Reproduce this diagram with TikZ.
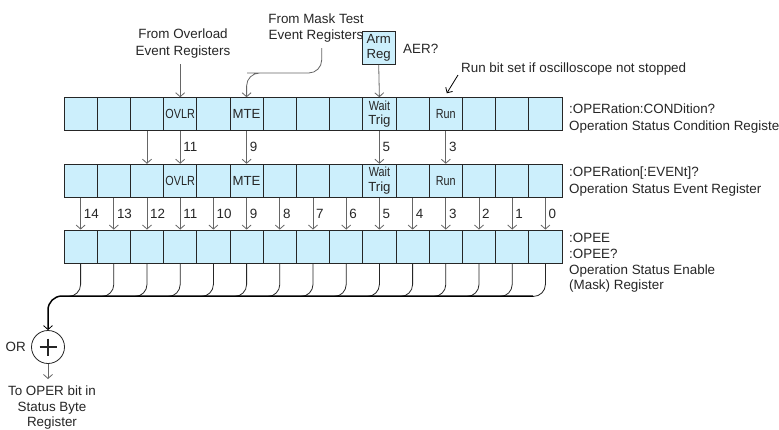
\documentclass[tikz,border=0pt]{standalone}
\usepackage{fontspec}
\usepackage{graphicx}
\setmainfont{Liberation Sans}
\usetikzlibrary{arrows.meta,calc}
\newcommand\sq[1]{\scalebox{0.82}[1]{#1}}
\newcommand\lbl[1]{\ifcase#1\or\or\or\sq{OVLR}\or\or MTE\or\or\or\or\sq{Wait}\\Trig\or\or\sq{Run}\fi}
\begin{document}
\begin{tikzpicture}[x=1pt,y=-1pt,
  txt/.style={inner sep=0pt, font=\fontsize{13.4}{16.5}\selectfont, text=black!85},
  cell/.style={draw=black!85, fill=cyan!20, line width=0.9pt, minimum width=33.2pt,
    minimum height=33pt, inner sep=0pt, align=center, font=\fontsize{13.2}{14.5}\selectfont, text=black!85},
  arr/.style={draw=black!60, line width=0.8pt, -{Straight Barb[length=4pt,width=9pt]}},
  curve/.style={draw=black!85, line width=0.8pt, rounded corners=12pt},
  bus/.style={draw=black, line width=1.5pt, rounded corners=14pt, -{Straight Barb[length=4pt,width=9pt,line width=0.8pt]}}]
\useasboundingbox (0,0) rectangle (779,429);
\fill[white] (0,0) rectangle (779,429);
% registers
\foreach \i in {0,...,14} {
  \node[cell] (r1c\i) at ({64+33.2*(\i+0.5)},114.2) {\lbl{\i}};
  \node[cell] (r2c\i) at ({64+33.2*(\i+0.5)},180.7) {\lbl{\i}};
  \node[cell] (r3c\i) at ({64+33.2*(\i+0.5)},246.5) {};
}
% condition -> event
\foreach \i in {2,3,5,9,11} \draw[arr] (r1c\i.south) -- (r2c\i.north);
\foreach \i/\b in {3/11,5/9,9/5,11/3}
  \node[txt, anchor=west] (l1b\b) at ($(r1c\i.south)+(3,16)$) {\b};
% event -> enable
\foreach \i in {0,...,14} {
  \draw[arr] (r2c\i.south) -- (r3c\i.north);
  \pgfmathtruncatemacro\b{14-\i}
  \node[txt, anchor=west] (l2b\b) at ($(r2c\i.south)+(3,16)$) {\b};
}
% enable -> OR bus
\foreach \i in {0,...,14} \draw[curve] (r3c\i.south) -- ++(0,33) -- ++(-13,0);
\node[circle, draw=black!85, line width=0.8pt, minimum size=33pt, inner sep=0pt] (orc) at (48,347) {};
\draw[line width=1.7pt, black!85] ($(orc)+(-8.5,0)$) -- ($(orc)+(8.5,0)$)
  ($(orc)+(0,-8.5)$) -- ($(orc)+(0,8.5)$);
\coordinate (busR) at (533,296);
\draw[bus] (busR) -| (orc.north);
\node[txt, anchor=east] (ortxt) at (26,347) {OR};
\coordinate (outp) at (48,379);
\draw[arr] (orc.south) -- (outp);
\node[txt, align=center, anchor=north, font=\fontsize{13.4}{15.5}\selectfont] (oper) at (52,386) {To OPER bit in\\Status Byte\\Register};
% top inputs
\node[txt, align=center] (ovl) at (183,43.5) {From Overload\\Event Registers};
\draw[arr] (r1c3 |- 0,64) -- (r1c3.north);
\node[txt, align=center] (mask) at (316,28) {From Mask Test\\Event Registers};
\draw[arr, rounded corners=13pt] (321.7,48) |- (260,73) -| (r1c5.north);
\node[cell, minimum width=33pt, minimum height=32.6pt] (arm) at (378.7,48) {Arm\\Reg};
\draw[arr] (arm.south) -- (r1c9.north);
\node[txt, anchor=west] (aer) at (403,49) {AER?};
\node[txt, anchor=west] (runtxt) at (461,69) {Run bit set if oscilloscope not stopped};
\draw[draw=black, line width=0.8pt, -{Straight Barb[length=4pt,width=8pt]}] ($(runtxt.west)+(-3,6)$) -- ($(r1c11.north)+(1,-4)$);
% right labels
\node[txt, anchor=west, align=left] (t1) at (569,118.5) {:OPERation:CONDition?\\Operation Status Condition Register};
\node[txt, anchor=west, align=left] (t2) at (569,181.5) {:OPERation[:EVENt]?\\Operation Status Event Register};
\node[txt, anchor=west, align=left, font=\fontsize{13.4}{15.6}\selectfont] (t3) at (569,263) {:OPEE\\:OPEE?\\Operation Status Enable\\(Mask) Register};
\end{tikzpicture}
\end{document}
